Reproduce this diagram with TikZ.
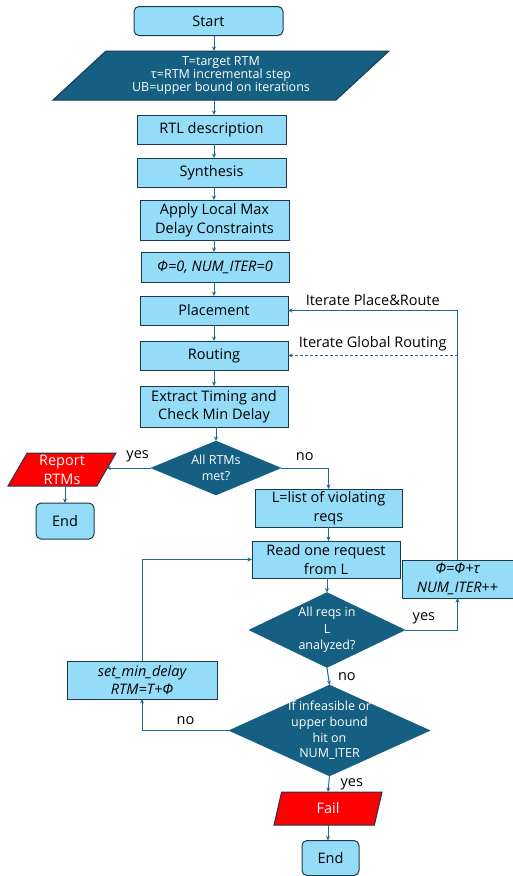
\documentclass[tikz,border=0pt]{standalone}
\usepackage{fontspec}
\setmainfont{Open Sans}
\usepackage{tikz}
\usetikzlibrary{shapes.geometric,arrows.meta,positioning,calc}
\usepackage{xcolor}
\definecolor{skyfill}{HTML}{94DCF8}
\definecolor{deepteal}{HTML}{156082}
\definecolor{edgegrey}{HTML}{1B3A4B}
\definecolor{flowline}{HTML}{1F6B8C}
\definecolor{alarmred}{HTML}{FF0000}

\begin{document}
\begin{tikzpicture}[x=1pt, y=-1pt, >={Stealth[length=4.5pt,width=4pt]},
  proc/.style={rectangle, draw=edgegrey, fill=skyfill, line width=1pt, minimum width=149pt, minimum height=29pt, inner sep=2pt, outer sep=0pt, align=center, font=\fontsize{14.5}{18.5}\selectfont},
  term/.style={proc, rounded corners=5pt},
  io/.style={trapezium, trapezium stretches body, draw=edgegrey, line width=1pt, inner sep=1pt, outer sep=0pt, align=center, text=white},
  decision/.style={diamond, draw=deepteal, fill=deepteal, text=white, inner sep=0pt, outer sep=0pt, align=center, font=\fontsize{12.5}{16.5}\selectfont},
  flow/.style={->, flowline, line width=1pt},
  lbl/.style={font=\fontsize{14.5}{17}\selectfont, text=black}]
  \useasboundingbox (0,0) rectangle (513,876);

  % main column
  \node[term] (start) at (208.5,21) {Start};
  \node[io, fill=deepteal, font=\fontsize{12.5}{13}\selectfont, trapezium left angle=37, trapezium right angle=143, minimum width=336pt, minimum height=49pt] (params) at (221,75.5) {T=target RTM\\τ=RTM incremental step\\UB=upper bound on iterations};
  \node[proc] (rtl) at (211.5,129.5) {RTL description};
  \node[proc] (synth) at (211.5,172.5) {Synthesis};
  \node[proc, minimum height=40pt] (maxdly) at (214.5,220) {Apply Local Max\\Delay Constraints};
  \node[proc, minimum width=148pt, minimum height=30pt] (init) at (215,267) {\itshape Φ=0, NUM\_ITER=0};
  \node[proc, minimum width=148pt] (place) at (214,310.5) {Placement};
  \node[proc, minimum width=148pt] (route) at (214,355.5) {Routing};
  \node[proc, minimum width=148pt, minimum height=41pt] (sta) at (214,406.5) {Extract Timing and\\Check Min Delay};
  \node[decision, minimum width=130pt, minimum height=54pt, aspect=2.4] (allmet) at (216,468) {All RTMs\\met?};

  % left branch
  \node[io, fill=alarmred, font=\fontsize{14.5}{19}\selectfont, trapezium left angle=57, trapezium right angle=123, minimum width=108pt, minimum height=33pt, inner sep=0pt] (report) at (62,469.5) {Report\\RTMs};
  \node[term, minimum width=58pt, minimum height=36pt] (endok) at (65,521) {End};

  % request loop
  \node[proc, minimum width=147pt, minimum height=38pt] (viol) at (328.5,508) {L=list of violating\\reqs};
  \node[proc, minimum width=148pt, minimum height=37pt] (readreq) at (326,559.5) {Read one request\\from L};
  \node[proc, minimum width=111pt, minimum height=38pt] (bump) at (457.5,579) {\itshape Φ=Φ+τ\\{\itshape NUM\_ITER}++};
  \node[decision, minimum width=156pt, minimum height=75pt, aspect=2.08, inner sep=-2pt] (alldone) at (327,630) {All reqs in\\L\\analyzed?};
  \node[proc, minimum width=150pt, minimum height=38pt] (setmin) at (142,680) {\itshape set\_min\_delay\\\itshape RTM=T+Φ};
  \node[decision, minimum width=201pt, minimum height=91pt, aspect=2.21, inner sep=-5pt, font=\fontsize{12.5}{15.7}\selectfont] (giveup) at (329.5,730.5) {If infeasible or\\upper bound\\hit on\\NUM\_ITER};
  \node[io, fill=alarmred, font=\fontsize{14.5}{17}\selectfont, trapezium left angle=60, trapezium right angle=120, minimum width=108pt, minimum height=33pt] (fail) at (328,808.5) {Fail};
  \node[term, minimum width=57pt, minimum height=35pt] (endfail) at (330.5,858) {End};

  % connectors
  \draw[flow] (start.south -| place) -- (params.north -| place);
  \draw[flow] (params.south -| place) -- (rtl.north -| place);
  \draw[flow] (rtl.south -| place) -- (synth.north -| place);
  \draw[flow] (synth.south -| place) -- (maxdly.north -| place);
  \draw[flow] (maxdly.south -| place) -- (init.north -| place);
  \draw[flow] (init.south -| place) -- (place.north);
  \draw[flow] (place) -- (route);
  \draw[flow] (route) -- (sta);
  \draw[flow] (sta.south -| allmet) -- (allmet.north);

  \draw[flow] (allmet.west) -- node[lbl, above=2pt, pos=0.3] {yes} (allmet.west -| report.east);
  \draw[flow] (report.south -| endok) -- (endok.north);
  \draw[flow] (allmet.east) -| node[lbl, above=4pt, pos=0.25] {no} (viol.north);
  \draw[flow] (viol.south) -- (viol.south |- readreq.north);
  \draw[flow] (readreq.south -| alldone) -- (alldone.north);
  \draw[flow] (alldone.east) -| node[lbl, above=2pt, pos=0.18] {yes} (bump.south);
  \draw[flow] (bump.north) |- node[lbl, above=1pt, pos=0.75] {Iterate Place\&Route} (place.east);
  \draw[flow, dash pattern=on 3pt off 2pt] (bump.north |- route.east) -- node[lbl, above=1pt] {Iterate Global Routing} (route.east);
  \draw[flow] (alldone.south) -- node[lbl, right=6pt] {no} (giveup.north);
  \draw[flow] (giveup.west) -| node[lbl, above=2pt, pos=0.25] {no} (setmin.south);
  \draw[flow] (setmin.north) |- (readreq.west);
  \draw[flow] (giveup.south) -- node[lbl, right=8pt] {yes} (fail.north);
  \draw[flow] (fail.south) -- (fail.south |- endfail.north);
\end{tikzpicture}
\end{document}
